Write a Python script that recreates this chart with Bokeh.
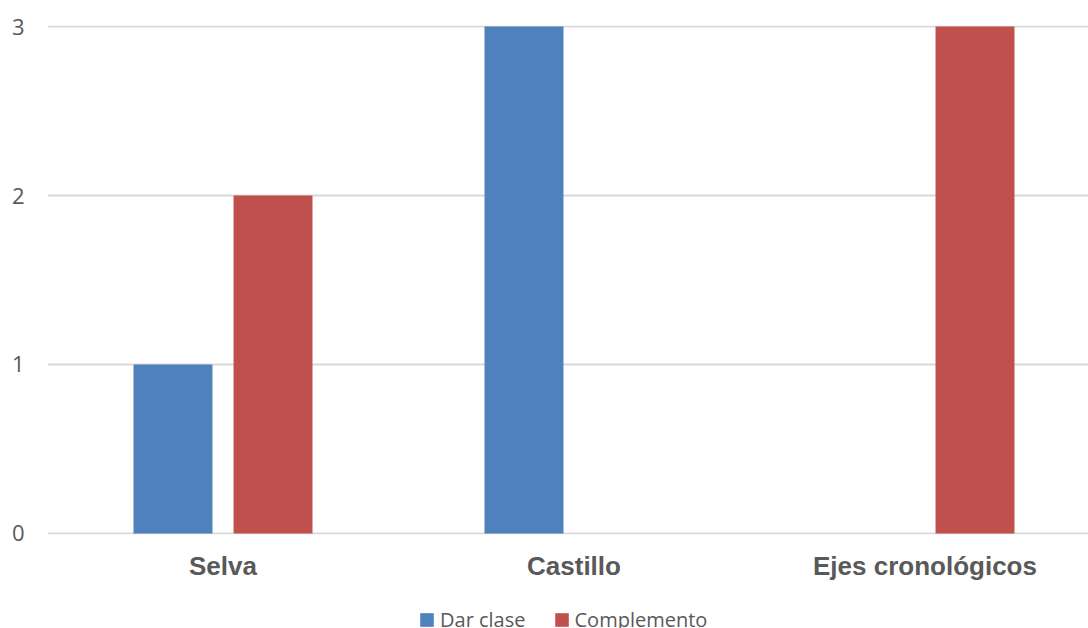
from bokeh.plotting import figure
from bokeh.layouts import column
from bokeh.models import ColumnDataSource, Range1d, FixedTicker, Legend, LegendItem
from bokeh.transform import dodge
from bokeh.embed import file_html
from bokeh.resources import INLINE

# Survey results per activity
categories = ["Selva", "Castillo", "Ejes cronológicos"]
dar_clase = [1, 3, 0]
complemento = [2, 0, 3]
y_ticks = [0, 1, 2, 3]
series_names = ["Dar clase", "Complemento"]

BLUE = "#4f81bd"
RED = "#c0504d"
TEXT = "#595959"
GRID = "#d9d9d9"

centers = [i + 0.5 for i in range(len(categories))]
src = ColumnDataSource(dict(x=centers, dar=dar_clase, comp=complemento))

# a hair of room above and below so the 0 and 3 grid lines are kept
p = figure(
    width=1088, height=600,
    output_backend="svg", toolbar_location=None,
    x_range=Range1d(0, 1041 / 351), y_range=Range1d(-0.006, 3.006),
    min_border_left=47, min_border_right=0,
    min_border_top=25, min_border_bottom=66,
)
p.outline_line_color = None
p.background_fill_color = "white"
p.border_fill_color = "white"

bar_w = 0.225
off = 0.1425
p.vbar(x=dodge("x", -off, range=p.x_range), top="dar", width=bar_w,
       bottom=0, source=src, fill_color=BLUE, line_color=None)
p.vbar(x=dodge("x", off, range=p.x_range), top="comp", width=bar_w,
       bottom=0, source=src, fill_color=RED, line_color=None)

# x axis: category names under each group
p.xaxis.ticker = FixedTicker(ticks=centers)
p.xaxis.major_label_overrides = {c: n for c, n in zip(centers, categories)}
p.xaxis.axis_line_color = None
p.xaxis.major_tick_line_color = None
p.xaxis.minor_tick_line_color = None
p.xaxis.major_label_standoff = 10
p.xaxis.major_label_text_font = "Liberation Sans"
p.xaxis.major_label_text_font_style = "bold"
p.xaxis.major_label_text_font_size = "26px"
p.xaxis.major_label_text_color = TEXT
p.xgrid.grid_line_color = None

# y axis: plain numbers, no line or ticks
p.yaxis.ticker = FixedTicker(ticks=y_ticks)
p.yaxis.axis_line_color = None
p.yaxis.major_tick_line_color = None
p.yaxis.minor_tick_line_color = None
p.yaxis.major_label_standoff = 17
p.yaxis.major_label_text_font = "Open Sans"
p.yaxis.major_label_text_font_size = "22px"
p.yaxis.major_label_text_color = TEXT
p.ygrid.ticker = FixedTicker(ticks=y_ticks)
p.ygrid.grid_line_color = GRID
p.ygrid.grid_line_width = 2

# legend strip under the chart; its swatches come from the same series,
# drawn outside the strip's visible range
leg = figure(
    width=1088, height=28,
    output_backend="svg", toolbar_location=None,
    x_range=Range1d(0, 1), y_range=Range1d(10, 11),
    x_axis_type=None, y_axis_type=None,
    min_border=0, min_border_left=0, min_border_right=0,
    min_border_top=0, min_border_bottom=0,
)
leg.outline_line_color = None
leg.xgrid.visible = False
leg.ygrid.visible = False
l1 = leg.vbar(x="x", top="dar", width=0.1, source=src, fill_color=BLUE, line_color=None)
l2 = leg.vbar(x="x", top="comp", width=0.1, source=src, fill_color=RED, line_color=None)

legend = Legend(
    items=[LegendItem(label=series_names[0], renderers=[l1]),
           LegendItem(label=series_names[1], renderers=[l2])],
    orientation="horizontal",
    location=(371, -5),
    padding=0, margin=0, spacing=27,
    glyph_width=17, glyph_height=17, label_standoff=5,
    label_text_font="Open Sans", label_text_font_size="20px",
    label_text_color=TEXT,
    border_line_color=None, background_fill_alpha=0,
)
leg.add_layout(legend, "center")

open("out.html", "w").write(file_html(column(p, leg, spacing=0), INLINE))
